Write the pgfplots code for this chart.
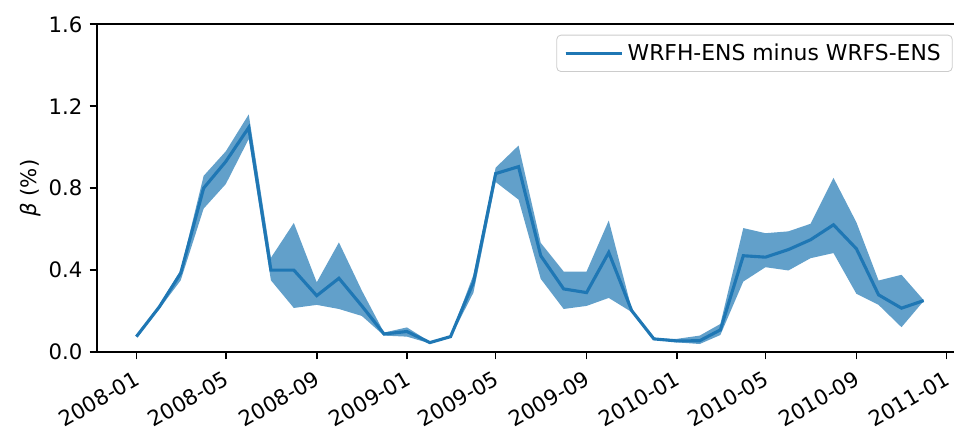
\documentclass[border=0pt]{standalone}
\usepackage{fontspec}
\setmainfont{DejaVu Sans}
\usepackage{pgfplots}
\usepackage{pgfplotstable}
\pgfplotsset{compat=1.18}
\usepgfplotslibrary{fillbetween}
\definecolor{c0}{HTML}{1F77B4}
\pgfplotstableread{
day mean up lo
0 0.075 0.077 0.073
31 0.22 0.23 0.21
60 0.385 0.40 0.35
91 0.80 0.86 0.70
121 0.93 0.98 0.82
152 1.096 1.16 1.04
182 0.40 0.46 0.35
213 0.40 0.63 0.215
244 0.275 0.34 0.23
274 0.36 0.535 0.21
305 0.225 0.30 0.176
335 0.088 0.095 0.08
366 0.10 0.12 0.075
397 0.046 0.05 0.042
425 0.075 0.08 0.07
456 0.34 0.377 0.29
486 0.871 0.90 0.83
517 0.905 1.008 0.744
547 0.47 0.533 0.357
578 0.308 0.393 0.21
609 0.29 0.393 0.225
639 0.486 0.642 0.264
670 0.202 0.21 0.195
700 0.064 0.066 0.062
731 0.054 0.064 0.047
762 0.055 0.08 0.039
790 0.108 0.137 0.083
821 0.47 0.605 0.344
851 0.463 0.58 0.414
882 0.50 0.589 0.398
912 0.548 0.626 0.458
943 0.621 0.85 0.483
974 0.504 0.633 0.284
1004 0.279 0.349 0.23
1035 0.214 0.377 0.121
1065 0.251 0.253 0.249
}\datatable
\begin{document}
\begin{tikzpicture}
\begin{axis}[
  scale only axis, width=415.7pt, height=157.3pt,
  xmin=-53.25, xmax=1118.25, ymin=0, ymax=1.6,
  xtick={0,121,244,366,486,609,731,851,974,1096},
  xticklabels={2008-01,2008-05,2008-09,2009-01,2009-05,2009-09,2010-01,2010-05,2010-09,2011-01},
  ytick={0,0.4,0.8,1.2,1.6},
  yticklabel style={/pgf/number format/.cd, fixed, fixed zerofill, precision=1},
  /pgf/number format/assume math mode=true,
  xtick pos=bottom, ytick pos=left,
  tick align=outside, major tick length=3.5pt,
  every tick/.style={black, line width=0.8pt},
  axis line style={line width=0.8pt},
  tick label style={font=\fontsize{10.2}{12}\selectfont},
  xticklabel style={rotate=30, anchor=north east, inner sep=0pt, xshift=-3.6pt, yshift=-3.5pt},
  every axis y label/.style={at={(axis description cs:-0.077,0.5)}, rotate=90, anchor=center, font=\fontsize{10.2}{12}\selectfont},
  ylabel={\textit{β} (\%)},
  legend style={at={(1,1)}, anchor=north east, xshift=-5pt, yshift=-5pt, draw=black!20, rounded corners=2pt, font=\fontsize{10.5}{12.5}\selectfont, inner xsep=3.5pt, inner ysep=2pt},
  legend cell align=left,
  legend image code/.code={\draw[#1] (0pt,0pt) -- (22.6pt,0pt); \path (0pt,0pt) -- (27pt,0pt);},
]
\addplot[name path=up, draw=none, forget plot] table[x=day, y=up] {\datatable};
\addplot[name path=lo, draw=none, forget plot] table[x=day, y=lo] {\datatable};
\addplot[fill=c0, fill opacity=0.7, draw=none, forget plot] fill between[of=up and lo];
\addplot[c0, line width=1.5pt] table[x=day, y=mean] {\datatable};
\addlegendentry{WRFH-ENS minus WRFS-ENS}
\end{axis}
\pgfresetboundingbox
\path[use as bounding box] (-46.56pt,-36.96pt) rectangle (411.36pt,168.96pt);
\end{tikzpicture}
\end{document}
